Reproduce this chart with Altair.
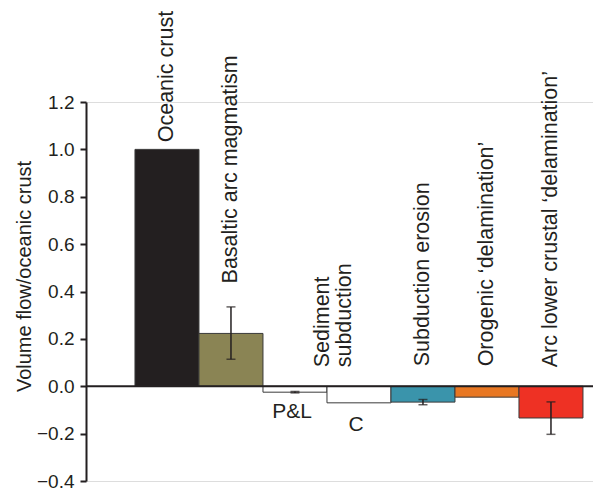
import altair as alt
import pandas as pd

# ---- data ----
categories = ["Oceanic crust", "Basaltic arc magmatism", "P&L", "C",
              "Subduction erosion", "Orogenic delamination", "Arc lower crustal delamination"]
values = [1.0, 0.223, -0.025, -0.07, -0.067, -0.046, -0.134]
colors = ["#231f20", "#8a8454", "#ffffff", "#ffffff", "#3a94ab", "#e87722", "#ee3124"]

err_cats = ["Basaltic arc magmatism", "P&L", "Subduction erosion", "Arc lower crustal delamination"]
err_lo = [0.114, -0.028, -0.078, -0.203]
err_hi = [0.335, -0.022, -0.056, -0.066]

label_cats = ["Oceanic crust", "Basaltic arc magmatism", "Subduction erosion",
              "Orogenic delamination", "Arc lower crustal delamination"]
label_texts = ["Oceanic crust", "Basaltic arc magmatism", "Subduction erosion",
               "Orogenic \u2018delamination\u2019", "Arc lower crustal \u2018delamination\u2019"]
label_base = [1.03, 0.434, 0.084, 0.084, 0.08]

sediment_lines = ["Sediment", "subduction"]
sediment_cat = ["C"]
sediment_base = [0.08]

below_cats = ["P&L", "C"]
below_texts = ["P&L", "C"]
below_y = [-0.11, -0.165]

y_ticks = [-0.4, -0.2, 0.0, 0.2, 0.4, 0.6, 0.8, 1.0, 1.2]

INK = "#231f20"
FONT = "Liberation Sans"
W, H = 507, 379

bars_df = pd.DataFrame({"cat": categories, "value": values, "color": colors})
err_df = pd.DataFrame({"cat": err_cats, "lo": err_lo, "hi": err_hi})
lab_df = pd.DataFrame({"cat": label_cats, "text": label_texts, "y": label_base})
sed_df = pd.DataFrame({"cat": sediment_cat, "y": sediment_base})
below_df = pd.DataFrame({"cat": below_cats, "text": below_texts, "y": below_y})
zero_df = pd.DataFrame({"y": [0.0]})

xscale = alt.Scale(domain=categories, paddingInner=0, paddingOuter=0.461, align=0.83)
yscale = alt.Scale(domain=[-0.4, 1.2], nice=False, zero=False)

x_enc = alt.X("cat:N", scale=xscale, axis=None)

bars = alt.Chart(bars_df).mark_bar(stroke="#3a3a3a", strokeWidth=1).encode(
    x=x_enc,
    y=alt.Y("value:Q", scale=yscale,
            axis=alt.Axis(values=y_ticks, format=".1f", grid=False,
                          domainColor=INK, domainWidth=2,
                          tickColor=INK, tickWidth=2, tickSize=6,
                          labelFontSize=19, labelColor=INK, labelPadding=6, labelFont=FONT,
                          title="Volume flow/oceanic crust", titleFont=FONT,
                          titleFontSize=20, titleFontWeight="normal", titleColor=INK,
                          titleAngle=270, titleAlign="center", titleBaseline="middle",
                          titleX=-62, titleY=174)),
    y2=alt.datum(0),
    color=alt.Color("color:N", scale=None),
)

zero = alt.Chart(zero_df).mark_rule(color=INK, strokeWidth=2).encode(
    y=alt.Y("y:Q", scale=yscale), x=alt.value(0), x2=alt.value(W)
)

err_rule = alt.Chart(err_df).mark_rule(color=INK, strokeWidth=1.5).encode(
    x=x_enc, y=alt.Y("lo:Q", scale=yscale), y2="hi:Q"
)
cap_lo = alt.Chart(err_df).mark_tick(color=INK, thickness=1.5, size=9, orient="horizontal").encode(
    x=x_enc, y=alt.Y("lo:Q", scale=yscale)
)
cap_hi = alt.Chart(err_df).mark_tick(color=INK, thickness=1.5, size=9, orient="horizontal").encode(
    x=x_enc, y=alt.Y("hi:Q", scale=yscale)
)

labels = alt.Chart(lab_df).mark_text(angle=270, align="left", baseline="middle",
                                     font=FONT, fontSize=21.5, color=INK).encode(
    x=x_enc, y=alt.Y("y:Q", scale=yscale), text="text:N"
)

sed = alt.Chart(sed_df).mark_text(angle=270, align="left", baseline="middle", xOffset=-4,
                                  font=FONT, fontSize=21.5, color=INK, lineHeight=22).encode(
    x=alt.X("cat:N", scale=xscale, axis=None, bandPosition=0),
    y=alt.Y("y:Q", scale=yscale),
    text=alt.value(sediment_lines),
)

below = alt.Chart(below_df).mark_text(align="center", baseline="middle", dx=-3,
                                      font=FONT, fontSize=21, color=INK).encode(
    x=x_enc, y=alt.Y("y:Q", scale=yscale), text="text:N"
)

chart = alt.layer(bars, zero, err_rule, cap_lo, cap_hi, labels, sed, below).properties(
    width=W, height=H,
    autosize=alt.AutoSizeParams(type="none"),
    padding={"left": 78, "top": 94, "right": 0, "bottom": 10},
).configure_view(stroke=None).configure(font=FONT)

chart.save("out.html", embed_options={"renderer": "svg", "actions": False})
